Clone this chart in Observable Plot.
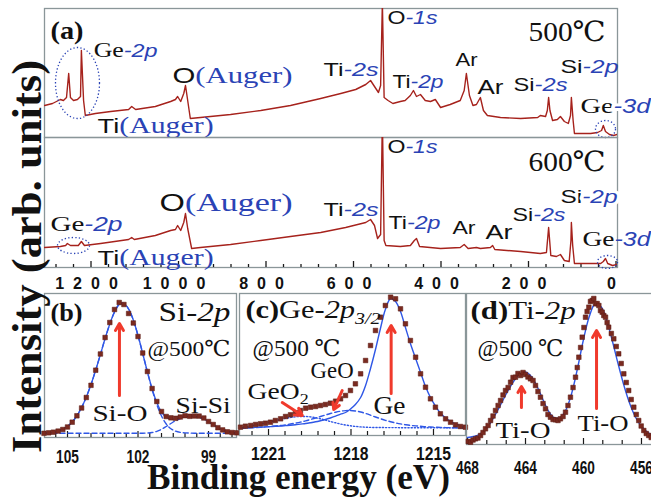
<!DOCTYPE html>
<html><head><meta charset="utf-8">
<script src="https://cdn.jsdelivr.net/npm/d3@7"></script>
<script src="https://cdn.jsdelivr.net/npm/@observablehq/plot@0.6"></script>
<style>
html,body{margin:0;padding:0;background:#fff;}
#fig{position:relative;width:651px;height:498px;overflow:hidden;background:#fff;}
#fig .pnl{position:absolute;}
</style></head><body><div id="fig"></div>
<script>
// ---------- DATA ----------
// Survey spectra: binding energy (eV) and intensity (arb. units)
const E500 = [1306,1288,1270,1263,1256,1251,1247,1240,1231,1224,1222,1217,1213,1190,1155,1114,1107,1098,1053,1018,1007,1002,995,988,984,979,973,950,881,812,744,675,629,595,572,561,552,543,538,534,530,521,510,493,482,470,463,456,447,436,424,413,401,379,356,347,342,335,327,319,310,303,294,264,218,179,173,161,157,154,151,145,134,127,118,109,104,102,98,95,58,42,33,29,24,15,6,-3];
const I500 = [32,34,38,37,40,64,40,37,38,41,87,37,22,24,26,28,31,28,31,36,38,41,36,44,52,37,19,20,23,27,32,39,44,48,53,57,51,45,52,135,40,37,34,36,37,42,47,41,43,37,36,38,30,33,37,47,64,42,32,33,40,27,22,20,19,20,22,21,27,40,27,17,18,21,16,14,22,40,17,4,4,5,7,12,6,3,2,3];
const E600 = [1306,1270,1258,1254,1247,1229,1222,1215,1178,1114,1107,1101,1053,1018,1007,1002,995,988,984,979,970,950,881,812,744,675,618,572,561,552,545,538,534,530,526,493,470,461,456,449,401,356,347,338,319,310,287,282,277,218,173,159,154,149,136,127,118,107,103,102,99,95,35,29,24,19,8,-3];
const I600 = [20,21,22,24,22,22,26,22,24,28,30,28,32,37,38,42,37,45,54,39,19,20,23,27,31,35,40,45,48,42,29,33,150,27,22,21,22,27,29,21,19,20,23,19,20,19,20,22,18,16,14,15,40,12,11,13,7,6,27,45,22,4,4,6,9,4,2,3];
const SURVEY_TICKS = [1280,1240,1200,1160,1120,1080,1040,1000,960,920,880,840,800,760,720,680,640,600,560,520,480,440,400,360,320,280,240,200,160,120,80,40,0];
const SURVEY_LABELS = [1200,1000,800,600,400,200,0];

// (b) Si-2p
const EB = [106.0,105.8,105.6,105.4,105.2,105.0,104.8,104.6,104.4,104.2,104.0,103.8,103.6,103.4,103.2,103.0,102.8,102.6,102.4,102.2,102.0,101.8,101.6,101.4,101.2,101.0,100.8,100.6,100.4,100.2,100.0,99.8,99.6,99.4,99.2,99.0,98.8,98.6,98.4,98.2,98.0,97.8];
const IB_POINTS = [4.2,4.7,5.3,6.4,8,10.5,15.3,21.7,29.5,40,52.2,67.3,83.5,100,115,128,135,133,124,114.5,101,84.5,66,49,36,26,21,19.7,19.2,20.5,21.8,21.2,21.5,21.4,19.5,16,13,9.8,7.6,5.7,5,4.7];
const IB_FIT = [4.3,4.6,5.2,6.4,8.3,11.2,15.5,21.8,30,40.5,53,67.5,83,99,113.5,125.5,133,134,128.5,117.5,102,84,65.7,48.7,34.9,25.4,20.2,18.5,18.8,19.8,20.8,21.3,21.2,20.3,18.5,15.8,12.8,10,7.8,6.2,5.2,4.7];
const IB_SIO = [4.3,4.6,5.2,6.4,8.3,11.2,15.5,21.8,30,40.5,53,67.5,83,99,113.5,125.5,133,134,128.5,117.5,102,84,65.5,48,33,21.5,13.5,8.8,6.3,5.1,4.6,4.4,4.3,4.3,4.3,4.3,4.3,4.3,4.3,4.3,4.3,4.3];
const IB_SISI = [4.3,4.3,4.3,4.3,4.3,4.3,4.3,4.3,4.3,4.3,4.3,4.3,4.3,4.3,4.3,4.3,4.3,4.3,4.3,4.3,4.3,4.3,4.5,5,6.2,8.2,11,14,16.8,19,20.5,21.2,21.2,20.3,18.5,15.8,12.8,10,7.8,6.2,5.2,4.7];
const TICKS_B = [105.5,105,104.5,104,103.5,103,102.5,102,101.5,101,100.5,100,99.5,99,98.5,98];
const LABELS_B = [105,102,99];

// (c) Ge-2p3/2
const EC = [1222.02,1221.84,1221.65,1221.47,1221.29,1221.11,1220.93,1220.75,1220.56,1220.38,1220.2,1220.02,1219.84,1219.65,1219.47,1219.29,1219.11,1218.93,1218.75,1218.56,1218.38,1218.2,1218.02,1217.84,1217.65,1217.47,1217.29,1217.11,1216.93,1216.75,1216.56,1216.38,1216.2,1216.02,1215.84,1215.65,1215.47,1215.29,1215.11,1214.93,1214.75,1214.56,1214.38,1214.2,1214.02,1213.84];
const IC_POINTS = [8.3,9.3,10,11,11.7,12.3,13.3,15,16.7,19,20.7,22.7,25,27.3,28.3,29,30,31,32.3,34.3,36.7,40,45,51.7,61.7,75,90,105,118.3,130,138.3,136.7,126.7,111.7,95,78.3,61.7,48.3,36.7,28.3,21.7,16.7,13.3,10.7,9,8.3];
const IC_GE = [7.5,7.7,7.9,8.1,8.3,8.6,8.9,9.2,9.5,9.9,10.3,10.8,11.4,12,12.8,13.7,14.8,16,17.5,19.3,21.3,23,26.5,31,38,50,67,86,107,126,137,134,124,108,92,77,63,49,38,29.5,22.5,17.5,14,11.5,9.8,8.5];
const IC_GEO = [7.3,7.5,7.7,8,8.3,8.6,9,9.5,10,10.7,11.5,12.4,13.4,14.6,16,17.5,19,20.5,22,23.3,24.3,24.9,25,24.5,23.5,22,20.3,18.5,16.8,15.2,13.8,12.6,11.6,10.8,10.1,9.6,9.2,8.8,8.5,8.3,8.1,7.9,7.8,7.7,7.6,7.5];
const IC_GEO2 = [8.3,8.8,9.5,10.4,11.4,12.5,13.7,14.9,16,17.1,18,18.7,19,19,18.6,17.8,16.7,15.4,14,12.7,11.5,10.5,9.7,9.1,8.6,8.3,8.1,8,8,7.9,7.9,7.9,7.8,7.8,7.8,7.8,7.7,7.7,7.7,7.7,7.7,7.6,7.6,7.6,7.6,7.6];
const TICKS_C = [1221.6,1221,1220.4,1219.8,1219.2,1218.6,1218,1217.4,1216.8,1216.2,1215.6,1215,1214.4];
const LABELS_C = [1221,1218,1215];

// (d) Ti-2p
const ED = [467.95,467.79,467.62,467.45,467.28,467.10,466.93,466.76,466.58,466.41,466.24,466.07,465.89,465.72,465.55,465.38,465.2,465.03,464.86,464.69,464.52,464.34,464.17,464.0,463.83,463.66,463.48,463.31,463.14,462.97,462.79,462.62,462.45,462.28,462.1,461.93,461.76,461.59,461.41,461.24,461.07,460.9,460.72,460.55,460.43,460.32,460.2,460.09,459.97,459.86,459.75,459.63,459.52,459.4,459.29,459.17,459.06,458.94,458.83,458.71,458.6,458.48,458.37,458.26,458.08,457.91,457.74,457.57,457.4,457.22,457.05,456.88,456.71,456.53,456.36,456.19,456.02,455.84,455.67,455.5,455.33];
const ID_POINTS = [3,2.3,4.5,5.7,6.5,9,12,15.7,19,24,28.5,34,39,44,49.5,54,57,62.3,67,67.3,71,69,72,70,67.5,65.7,64,59,53,47.3,41,35.7,30,27.3,25,24.7,24,25.7,28,32.3,39,47.3,57,67.3,77,87.3,97,107.3,117,127.3,133,137.3,143,144,146,140.7,141,139,134,132.3,129,127.3,122,117.3,111,105.7,98,90.7,81,70.7,62,54,45,37.3,30,24,18.5,14,11,9,7];
const ED_FIT = [468.0,467.6,467.2,466.8,466.4,466.0,465.6,465.2,464.8,464.4,464.0,463.6,463.2,462.8,462.4,462.0,461.6,461.2,460.8,460.4,460.0,459.6,459.2,458.8,458.4,458.0,457.6,457.2,456.8,456.4,456.0,455.6,455.2];
const ID_FIT = [7,8,10,14.5,22,32,43,54,63.5,70.5,72.5,68,58,45,33,26.5,27,35,52,77,105,128,140.5,138,124,103,80,58.5,40.5,27,18,12.5,9];
const TICKS_D = [468,466.67,465.33,464,462.67,461.33,460,458.67,457.33,456];
const LABELS_D = [468,464,460,456];

// ---------- STYLE ----------
const SERIF = '"Liberation Serif", "Times New Roman", serif';
const SANS = '"Liberation Sans", Arial, sans-serif';
const NARROW = '"Liberation Sans Narrow", "Arial Narrow", "Liberation Sans", sans-serif';
const CSERIF = '"Liberation Serif", "DejaVu Serif", "Noto Sans CJK SC", serif';
const LINE = "#a6221c", PT = "#7a2a20", BLUE = "#2f57e6", ARROW = "#f03a2c",
      FRAME = "#8a9699", LBLUE = "#2a43b5", INK = "#111", TICK = "#1a1a1a";

const zip = (X, Y) => X.map((x, i) => ({E: x, I: Y[i]}));
const ctx = document.createElement("canvas").getContext("2d");
const measure = r => { ctx.font = `${r.style||"normal"} ${r.weight||"normal"} ${r.size}px ${r.family}`; return ctx.measureText(r.t).width; };
const R = (t, family, size, o = {}) => ({t, family, size, ...o});
const B = (t, size = 19) => R(t, SANS, size, {style: "italic", fill: LBLUE});

function label(L) {
  const nat = L.runs.map(measure);
  const k = L.w ? L.w / d3.sum(nat) : 1;
  let off = 0;
  return L.runs.map((r, i) => {
    const len = nat[i] * k;
    const tag = "tl:" + len.toFixed(2);
    const m = Plot.text([L], {x: d => d.x, y: d => d.y, text: () => r.t, textAnchor: "start", lineAnchor: "bottom",
      dx: off, dy: r.dy || 0, fontFamily: r.family, fontSize: r.size, fontStyle: r.style || "normal",
      fontWeight: r.weight || "normal", fill: r.fill || INK, ariaLabel: () => tag,
      ...(L.halo ? {stroke: "white", strokeWidth: 6} : {})});
    off += len;
    return m;
  });
}
function ellipse(rx, ry) {
  const k = 0.5523;
  return {draw(c) {
    c.moveTo(rx, 0);
    c.bezierCurveTo(rx, ry * k, rx * k, ry, 0, ry);
    c.bezierCurveTo(-rx * k, ry, -rx, ry * k, -rx, 0);
    c.bezierCurveTo(-rx, -ry * k, -rx * k, -ry, 0, -ry);
    c.bezierCurveTo(rx * k, -ry, rx, -ry * k, rx, 0);
    c.closePath();
  }};
}
const ring = (x, y, rx, ry) => Plot.dot([{x, y}], {x: "x", y: "y", symbol: ellipse(rx, ry), fill: "none", stroke: LBLUE, strokeWidth: 1.3, strokeDasharray: "1.3,2.2"});
const arrow = (x1, y1, x2, y2) => Plot.arrow([{x1, y1, x2, y2}], {x1: "x1", y1: "y1", x2: "x2", y2: "y2", stroke: ARROW, strokeWidth: 3, headLength: 4, headAngle: 60});
function ticks(T, L, major, minor, dyLab, cw, fs) {
  const tag = "cw:" + cw;
  return [
    Plot.ruleX(T, {x: d => d, y1: 0, y2: d => L.includes(d) ? major : minor, stroke: TICK, strokeWidth: 1.2}),
    Plot.text(L, {x: d => d, text: d => String(d), frameAnchor: "bottom", dy: dyLab, lineAnchor: "middle",
      fontFamily: NARROW, fontWeight: "bold", fontSize: fs, fill: INK, ariaLabel: () => tag})
  ];
}

function post(svg) {
  svg.querySelectorAll("text[aria-label]").forEach(t => {
    const a = t.getAttribute("aria-label");
    if (a.startsWith("tl:")) {
      t.setAttribute("textLength", a.slice(3)); t.setAttribute("lengthAdjust", "spacingAndGlyphs");
    } else if (a.startsWith("cw:")) {
      t.setAttribute("textLength", (+a.slice(3) * t.textContent.length).toFixed(1)); t.setAttribute("lengthAdjust", "spacingAndGlyphs");
    } else if (a.startsWith("ls:")) {
      t.setAttribute("letter-spacing", a.slice(3));
    }
  });
}
const fig = document.getElementById("fig");
function panel(o) {
  const svg = Plot.plot({width: o.width, height: o.height, margin: 0,
    x: {domain: o.xd, axis: null}, y: {domain: o.yd, axis: null},
    style: {overflow: "visible", maxWidth: "none", background: "transparent"}, marks: o.marks});
  post(svg);
  const div = document.createElement("div");
  div.className = "pnl"; div.style.left = o.left + "px"; div.style.top = o.top + "px";
  div.appendChild(svg); fig.appendChild(div);
}

// ---------- SURVEY 500 ----------
const A_LABELS = [
  {x: 1292.6, y: 99, w: 33, runs: [R("(a)", SERIF, 25, {weight: "bold"})]},
  {x: 1194, y: 81, w: 64, runs: [R("Ge", SERIF, 21), B("-2p")]},
  {x: 1013.7, y: 55, w: 120, runs: [R("O", SANS, 22), R("(Auger)", SERIF, 23, {fill: LBLUE})]},
  {x: 1185, y: 5, w: 116, runs: [R("Ti", SANS, 21), R("(Auger)", SERIF, 23, {fill: LBLUE})]},
  {x: 668.6, y: 62, w: 55, runs: [R("Ti", SANS, 19), B("-2s")]},
  {x: 522.3, y: 114, w: 50, runs: [R("O", SANS, 19), B("-1s")]},
  {x: 200, y: 97, w: 77, runs: [R("500℃", CSERIF, 28)]},
  {x: 510.9, y: 50, w: 51, runs: [R("Ti", SANS, 19), B("-2p")]},
  {x: 366.9, y: 72, w: 22, runs: [R("Ar", SANS, 19)]},
  {x: 316.6, y: 44, w: 26, runs: [R("Ar", SANS, 20)]},
  {x: 234.3, y: 47, w: 54, runs: [R("Si", SANS, 19), B("-2s")]},
  {x: 126.9, y: 65, w: 58, runs: [R("Si", SANS, 19), B("-2p")]},
  {x: 81.1, y: 25, w: 70, halo: true, runs: [R("Ge", SERIF, 22), B("-3d", 20)]}
];
panel({left: 44, top: 8, width: 573, height: 129, xd: [1306.3, -3.43], yd: [0, 129], marks: [
  Plot.frame({stroke: FRAME, strokeWidth: 1.3}),
  Plot.line(zip(E500, I500), {x: "E", y: "I", stroke: LINE, strokeWidth: 1.4, clip: true}),
  ring(1230.9, 54.5, 22, 35.5), ring(24, 8.5, 10, 8.5),
  ...A_LABELS.flatMap(label)
]});

// ---------- SURVEY 600 ----------
const A2_LABELS = [
  {x: 1292.6, y: 37, w: 72, runs: [R("Ge", SERIF, 22), B("-2p", 20)]},
  {x: 1043.4, y: 57, w: 133, runs: [R("O", SANS, 24), R("(Auger)", SERIF, 25, {fill: LBLUE})]},
  {x: 1185, y: 3, w: 116, runs: [R("Ti", SANS, 21), R("(Auger)", SERIF, 23, {fill: LBLUE})]},
  {x: 668.6, y: 52, w: 55, runs: [R("Ti", SANS, 19), B("-2s")]},
  {x: 522.3, y: 115, w: 50, runs: [R("O", SANS, 19), B("-1s")]},
  {x: 200, y: 97, w: 77, runs: [R("600℃", CSERIF, 28)]},
  {x: 520, y: 39, w: 52, runs: [R("Ti", SANS, 19), B("-2p")]},
  {x: 373.7, y: 34, w: 23, runs: [R("Ar", SANS, 19)]},
  {x: 298.3, y: 29, w: 27, runs: [R("Ar", SANS, 20)]},
  {x: 236.6, y: 47, w: 53, runs: [R("Si", SANS, 19), B("-2s")]},
  {x: 126.9, y: 65, w: 57, halo: true, runs: [R("Si", SANS, 19), B("-2p")]},
  {x: 76.6, y: 22, w: 68, runs: [R("Ge", SERIF, 22), B("-3d", 20)]}
];
panel({left: 44, top: 137, width: 573, height: 130, xd: [1306.3, -3.43], yd: [0, 130], marks: [
  Plot.frame({stroke: FRAME, strokeWidth: 1.3}),
  Plot.ruleX(SURVEY_TICKS, {x: d => d, y1: 0, y2: d => SURVEY_LABELS.includes(d) ? 6 : 3, stroke: TICK, strokeWidth: 1.3}),
  Plot.text(SURVEY_LABELS, {x: d => d, text: d => String(d), frameAnchor: "bottom", dy: 16, lineAnchor: "middle",
    fontFamily: SANS, fontWeight: "bold", fontSize: 16, fill: INK, ariaLabel: () => "ls:9"}),
  Plot.line(zip(E600, I600), {x: "E", y: "I", stroke: LINE, strokeWidth: 1.4, clip: true}),
  ring(1240, 22, 16, 8), ring(19.4, 5.5, 10, 6.5),
  ...A2_LABELS.flatMap(label)
]});

// ---------- (b) ----------
const B_LABELS = [
  {x: 105.72, y: 117, w: 32, runs: [R("(b)", SERIF, 26, {weight: "bold"})]},
  {x: 101.13, y: 117, w: 72, runs: [R("Si-", SERIF, 27), R("2p", SERIF, 27, {style: "italic"})]},
  {x: 101.6, y: 82, w: 83, runs: [R("@500℃", CSERIF, 22)]},
  {x: 103.94, y: 17, w: 55, runs: [R("Si-O", SERIF, 24)]},
  {x: 100.4, y: 25, w: 55, runs: [R("Si-Si", SERIF, 24)]}
];
panel({left: 44, top: 293, width: 192, height: 144, xd: [105.979, 97.809], yd: [0, 144], marks: [
  Plot.frame({stroke: FRAME, strokeWidth: 1.3}),
  ...ticks(TICKS_B, LABELS_B, 6, 4, 20, 7.6, 18),
  Plot.line(zip(EB, IB_SIO), {x: "E", y: "I", stroke: BLUE, strokeWidth: 1.4, strokeDasharray: "5,3", curve: "catmull-rom"}),
  Plot.line(zip(EB, IB_SISI), {x: "E", y: "I", stroke: BLUE, strokeWidth: 1.4, strokeDasharray: "5,3", curve: "catmull-rom"}),
  Plot.line(zip(EB, IB_FIT), {x: "E", y: "I", stroke: BLUE, strokeWidth: 1.3, curve: "catmull-rom"}),
  Plot.dot(zip(EB, IB_POINTS), {x: "E", y: "I", symbol: "square", r: 2.6, fill: PT, stroke: "#5a1a12", strokeWidth: 0.5}),
  arrow(102.79, 42, 102.79, 114),
  ...B_LABELS.flatMap(label)
]});

// ---------- (c) ----------
const C_LABELS = [
  {x: 1221.84, y: 118, w: 135, runs: [R("(c)", SERIF, 26, {weight: "bold"}), R("Ge-", SERIF, 26), R("2p", SERIF, 26, {style: "italic"}), R("3/2", SERIF, 17, {style: "italic", dy: 6})]},
  {x: 1221.58, y: 80, w: 88, runs: [R("@500 ℃", CSERIF, 23)]},
  {x: 1219.47, y: 58, w: 43, runs: [R("GeO", SERIF, 23)]},
  {x: 1221.76, y: 37, w: 61, runs: [R("GeO", SERIF, 23), R("2", SERIF, 15, {dy: 5})]},
  {x: 1217.18, y: 22, w: 32, runs: [R("Ge", SERIF, 25)]}
];
panel({left: 239, top: 293, width: 226, height: 142, xd: [1222.055, 1213.836], yd: [0, 142], marks: [
  Plot.frame({stroke: FRAME, strokeWidth: 1.3}),
  ...ticks(TICKS_C, LABELS_C, 6, 4, 19, 8.7, 18),
  Plot.line(zip(EC, IC_GEO2), {x: "E", y: "I", stroke: BLUE, strokeWidth: 1.4, strokeDasharray: "1.2,2", curve: "catmull-rom"}),
  Plot.line(zip(EC, IC_GEO), {x: "E", y: "I", stroke: BLUE, strokeWidth: 1.4, strokeDasharray: "5,3", curve: "catmull-rom"}),
  Plot.line(zip(EC, IC_GE), {x: "E", y: "I", stroke: BLUE, strokeWidth: 1.4, curve: "catmull-rom"}),
  Plot.dot(zip(EC, IC_POINTS), {x: "E", y: "I", symbol: "square", r: 2.6, fill: PT, stroke: "#5a1a12", strokeWidth: 0.5}),
  arrow(1220.5, 33, 1219.77, 20), arrow(1218.32, 45, 1218.63, 26), arrow(1216.54, 42, 1216.54, 110),
  ...C_LABELS.flatMap(label)
]});

// ---------- (d) ----------
const D_LABELS = [
  {x: 467.79, y: 126, w: 105, runs: [R("(d)", SERIF, 26, {weight: "bold"}), R("Ti-", SERIF, 26), R("2p", SERIF, 26, {style: "italic"})]},
  {x: 467.31, y: 89, w: 86, runs: [R("@500 ℃", CSERIF, 23)]},
  {x: 466.07, y: 7, w: 55, runs: [R("Ti-O", SERIF, 24)]},
  {x: 460.41, y: 14, w: 51, runs: [R("Ti-O", SERIF, 24)]}
];
panel({left: 466, top: 293, width: 186, height: 151, xd: [468.07, 455.24], yd: [0, 151], marks: [
  Plot.frame({stroke: FRAME, strokeWidth: 1.3}),
  ...ticks(TICKS_D, LABELS_D, 6, 4, 24, 7.6, 18),
  Plot.line(zip(ED_FIT, ID_FIT), {x: "E", y: "I", stroke: BLUE, strokeWidth: 1.4, curve: "catmull-rom"}),
  Plot.dot(zip(ED, ID_POINTS), {x: "E", y: "I", symbol: "square", r: 2.6, fill: PT, stroke: "#5a1a12", strokeWidth: 0.5}),
  arrow(464.28, 37, 464.28, 58), arrow(459.1, 36, 459.1, 114),
  ...D_LABELS.flatMap(label)
]});

// ---------- axis titles ----------
const ov = d3.select(fig).append("svg").attr("width", 651).attr("height", 498)
  .style("position", "absolute").style("left", "0px").style("top", "0px").style("pointer-events", "none");
ov.append("text").attr("transform", "translate(41,256.5) rotate(-90)").attr("text-anchor", "middle")
  .attr("font-family", SERIF).attr("font-weight", "bold").attr("font-size", 43)
  .attr("textLength", 393).attr("lengthAdjust", "spacingAndGlyphs").attr("fill", INK).text("Intensity (arb. units)");
ov.append("text").attr("x", 298.5).attr("y", 489).attr("text-anchor", "middle")
  .attr("font-family", SERIF).attr("font-weight", "bold").attr("font-size", 35)
  .attr("textLength", 303).attr("lengthAdjust", "spacingAndGlyphs").attr("fill", INK).text("Binding energy (eV)");
</script></body></html>
